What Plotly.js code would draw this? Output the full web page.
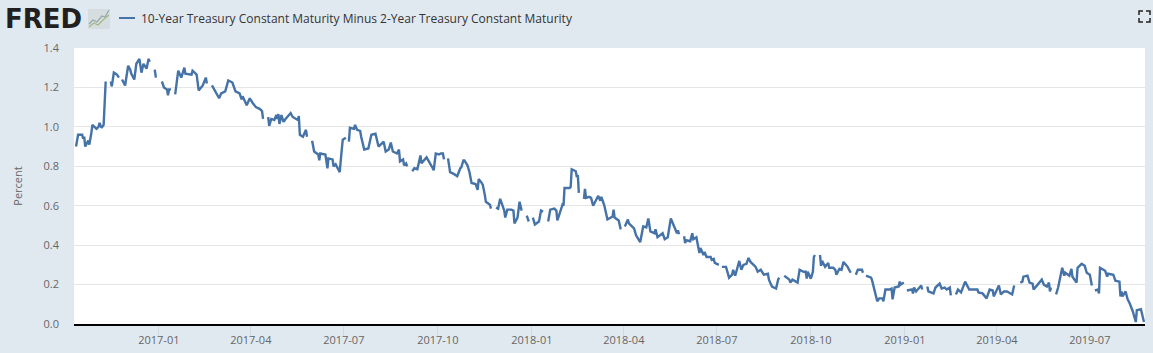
<!DOCTYPE html>
<html>
<head>
<meta charset="utf-8">
<script src="https://cdn.plot.ly/plotly-3.0.1.min.js"></script>
<style>html,body{margin:0;padding:0;background:#e1e9f0;overflow:hidden}#c{width:1153px;height:353px}</style>
</head>
<body>
<div id="c"></div>
<script>
const seriesName = "10-Year Treasury Constant Maturity Minus 2-Year Treasury Constant Maturity";
const tickDates = ["2017-01-01","2017-04-01","2017-07-01","2017-10-01","2018-01-01","2018-04-01","2018-07-01","2018-10-01","2019-01-01","2019-04-01","2019-07-01"];
const tickLabels = ["2017-01","2017-04","2017-07","2017-10","2018-01","2018-04","2018-07","2018-10","2019-01","2019-04","2019-07"];
const yTicks = [0,0.2,0.4,0.6,0.8,1.0,1.2,1.4];

const obs2016 = [["10-12",.90],["10-13",.93],["10-14",.96],["10-18",.96],["10-19",.94],["10-20",.95],["10-21",.90],["10-24",.93],["10-25",.91],["10-27",.97],["10-28",1.01],
["11-01",.99],["11-03",1.00],["11-04",1.02],["11-06",.995],["11-08",1.01],["11-10",1.23],["11-11",null],["11-15",1.23],["11-16",1.205],["11-18",1.275],["11-21",1.265],["11-23",1.25],["11-24",null],["11-26",1.24],["11-29",1.21],
["12-02",1.31],["12-04",1.29],["12-05",1.27],["12-08",1.24],["12-10",1.32],["12-13",1.345],["12-15",1.275],["12-17",1.32],["12-20",1.295],["12-22",1.345],["12-23",1.33],["12-26",null],["12-28",1.29],["12-29",1.255],["12-30",1.255]];

const obs2017 = [["01-02",null],["01-04",1.23],["01-06",1.20],["01-09",1.19],["01-10",1.16],["01-11",1.19],["01-13",1.19],["01-16",null],["01-17",1.165],["01-20",1.285],["01-23",1.25],["01-26",1.30],["01-27",1.27],
["02-02",1.265],["02-03",1.285],["02-07",1.265],["02-09",1.185],["02-13",1.21],["02-16",1.25],["02-17",1.22],["02-20",null],["02-22",1.21],["02-24",1.19],
["03-01",1.145],["03-03",1.17],["03-07",1.18],["03-10",1.235],["03-14",1.225],["03-17",1.18],["03-21",1.17],["03-23",1.14],["03-24",1.155],["03-28",1.11],["03-31",1.145],
["04-03",1.12],["04-06",1.10],["04-10",1.09],["04-12",1.08],["04-13",1.04],["04-14",null],["04-18",1.05],["04-19",1.005],["04-21",1.04],["04-24",1.035],["04-26",1.06],["04-27",1.04],["04-28",1.065],["04-29",1.015],
["05-01",1.06],["05-03",1.025],["05-05",1.04],["05-08",1.055],["05-10",1.07],["05-12",1.05],["05-15",1.04],["05-17",1.035],["05-18",1.055],["05-19",.96],["05-22",.95],["05-25",.985],["05-26",.95],["05-29",null],["05-31",.93],
["06-02",.875],["06-06",.86],["06-07",.83],["06-08",.865],["06-13",.86],["06-15",.79],["06-16",.84],["06-20",.835],["06-21",.80],["06-23",.81],["06-27",.77],["06-29",.885],["06-30",.935],
["07-03",.945],["07-04",null],["07-06",.925],["07-07",.995],["07-11",.99],["07-12",1.01],["07-14",.985],["07-17",.98],["07-18",.95],["07-20",.91],["07-21",.885],["07-25",.89],["07-28",.96],
["08-01",.965],["08-03",.915],["08-04",.90],["08-07",.915],["08-09",.925],["08-11",.875],["08-14",.885],["08-16",.92],["08-18",.875],["08-22",.865],["08-24",.885],["08-25",.825],["08-28",.835],["08-29",.805],["08-31",.815],
["09-01",.80],["09-04",null],["09-06",.775],["09-08",.79],["09-11",.785],["09-14",.855],["09-15",.815],["09-20",.845],["09-25",.80],["09-27",.78],["09-29",.865],
["10-02",.86],["10-04",.865],["10-06",.865],["10-07",.835],["10-09",null],["10-11",.84],["10-13",.77],["10-17",.76],["10-20",.75],["10-23",.79],["10-24",.795],["10-26",.83],["10-27",.83],["10-30",.805],
["11-01",.77],["11-03",.715],["11-07",.71],["11-09",.68],["11-10",.735],["11-13",.715],["11-14",.705],["11-16",.655],["11-17",.62],["11-21",.605],["11-22",.585],["11-23",null],["11-27",.59],["11-29",.585],
["12-01",.635],["12-04",.58],["12-05",.575],["12-06",.54],["12-08",.58],["12-12",.58],["12-14",.575],["12-15",.51],["12-18",.54],["12-20",.62],["12-22",.575],["12-25",null],["12-27",.55],["12-29",.52]];

const obs2018 = [["01-01",null],["01-02",.54],["01-04",.505],["01-08",.52],["01-09",.54],["01-10",.575],["01-12",.57],["01-15",null],["01-17",.52],["01-19",.58],["01-23",.585],["01-25",.575],["01-26",.525],["01-29",.58],["01-31",.605],
["02-01",.60],["02-02",.69],["02-07",.69],["02-08",.695],["02-09",.785],["02-13",.775],["02-14",.745],["02-15",.755],["02-16",.665],["02-19",null],["02-21",.635],["02-22",.685],["02-23",.64],["02-26",.645],["02-28",.64],
["03-02",.60],["03-05",.63],["03-07",.65],["03-09",.625],["03-10",.645],["03-12",.615],["03-13",.60],["03-16",.53],["03-21",.545],["03-22",.58],["03-23",.54],["03-27",.525],["03-29",.48],["03-30",null],
["04-02",.495],["04-05",.53],["04-06",.51],["04-11",.485],["04-13",.45],["04-17",.415],["04-20",.495],["04-23",.49],["04-25",.535],["04-27",.47],
["05-01",.46],["05-02",.48],["05-04",.44],["05-08",.46],["05-09",.46],["05-11",.43],["05-14",.44],["05-17",.535],["05-21",.49],["05-23",.46],["05-24",.475],["05-25",.455],["05-28",null],["05-30",.445],["05-31",.41],
["06-01",.425],["06-05",.42],["06-07",.46],["06-08",.43],["06-11",.44],["06-14",.36],["06-15",.385],["06-18",.35],["06-19",.365],["06-21",.34],["06-25",.34],["06-26",.325],["06-28",.33],["06-29",.31],
["07-03",.30],["07-04",null],["07-06",.29],["07-10",.29],["07-13",.235],["07-16",.25],["07-17",.275],["07-19",.245],["07-23",.32],["07-25",.275],["07-27",.30],["07-30",.305],
["08-01",.335],["08-03",.315],["08-08",.29],["08-10",.265],["08-13",.275],["08-16",.25],["08-20",.255],["08-21",.225],["08-24",.19],["08-28",.18],["08-30",.225],["08-31",.235],
["09-03",null],["09-05",.245],["09-10",.225],["09-11",.21],["09-13",.225],["09-18",.21],["09-20",.275],["09-24",.265],["09-26",.265],["09-27",.23],["09-28",.265],
["10-01",.23],["10-03",.265],["10-04",.34],["10-05",.35],["10-08",null],["10-10",.35],["10-11",.295],["10-12",.32],["10-15",.29],["10-18",.31],["10-19",.285],["10-23",.285],["10-25",.275],["10-26",.25],["10-29",.28],["10-31",.275],
["11-02",.315],["11-06",.29],["11-09",.26],["11-12",null],["11-14",.25],["11-16",.275],["11-20",.275],["11-21",.26],["11-22",null],["11-24",.245],["11-27",.24],["11-29",.235],["11-30",.22],
["12-03",.165],["12-05",.115],["12-07",.13],["12-10",.13],["12-11",.115],["12-13",.175],["12-17",.175],["12-19",.18],["12-20",.125],["12-22",.185],["12-26",.19],["12-27",.215],["12-28",.20],["12-31",.21]];

const obs2019 = [["01-01",null],["01-03",.17],["01-08",.175],["01-09",.155],["01-10",.185],["01-12",.165],["01-15",.18],["01-17",.195],["01-18",.175],["01-21",null],["01-23",.19],["01-24",.165],["01-29",.155],["01-31",.185],
["02-04",.205],["02-06",.18],["02-09",.185],["02-11",.175],["02-14",.185],["02-15",.145],["02-18",null],["02-20",.15],["02-22",.175],["02-25",.16],
["03-01",.215],["03-05",.175],["03-13",.175],["03-14",.16],["03-18",.155],["03-22",.13],["03-25",.175],["03-28",.17],["03-29",.14],
["04-03",.195],["04-05",.15],["04-08",.165],["04-11",.165],["04-16",.15],["04-18",.195],["04-19",null],["04-24",.21],["04-26",.215],["04-27",.24],
["05-01",.245],["05-03",.21],["05-06",.205],["05-07",.175],["05-13",.215],["05-15",.225],["05-17",.20],["05-20",.19],["05-22",.21],["05-23",.165],["05-24",.185],["05-27",null],["05-29",.15],["05-31",.185],
["06-04",.285],["06-06",.245],["06-07",.26],["06-11",.245],["06-13",.28],["06-14",.24],["06-18",.21],["06-19",.285],["06-23",.305],["06-26",.295],["06-28",.26],
["07-01",.25],["07-03",.195],["07-04",null],["07-06",.17],["07-09",.175],["07-10",.155],["07-11",.285],["07-16",.27],["07-18",.24],["07-19",.255],["07-24",.25],["07-26",.22],["07-30",.215],["07-31",.14],
["08-01",.165],["08-02",.14],["08-05",.165],["08-07",.125],["08-09",.105],["08-12",.065],["08-15",.01],["08-16",.07],["08-20",.075],["08-23",.01]];

const years = {2016: obs2016, 2017: obs2017, 2018: obs2018, 2019: obs2019};
const xs = [], ys = [];
Object.keys(years).forEach(function (yr) {
  years[yr].forEach(function (o) { xs.push(yr + "-" + o[0]); ys.push(o[1]); });
});

const W = 1153, H = 353, L = 74, R = 1145, T = 48, B = 324;
const px = function (x) { return (x - L) / (R - L); };
const py = function (y) { return (B - y) / (B - T); };
const poly = function (pts) {
  return pts.map(function (p, i) { return (i ? "L" : "M") + px(p[0]) + "," + py(p[1]); }).join(" ");
};
const deco = function (pts, color, width) {
  return {type: "path", xref: "paper", yref: "paper", path: poly(pts), line: {color: color, width: width}};
};

const shapes = [
  // legend sample
  deco([[119, 18], [135, 18]], "#4572a7", 2),
  // FRED icon
  {type: "rect", xref: "paper", yref: "paper", x0: px(88), x1: px(110), y0: py(29), y1: py(9), fillcolor: "#d6dde0", line: {width: 0}},
  deco([[89, 24], [93, 20], [97, 22], [102, 16], [105, 17], [109, 10]], "#93a7a8", 1.2),
  deco([[89, 27], [94, 23], [98, 25], [103, 20], [109, 15]], "#a6b787", 1.2),
  // fullscreen icon
  deco([[1139, 15], [1139, 11], [1143, 11]], "#222222", 1.5),
  deco([[1146, 11], [1150, 11], [1150, 15]], "#222222", 1.5),
  deco([[1139, 18], [1139, 22], [1143, 22]], "#222222", 1.5),
  deco([[1146, 22], [1150, 22], [1150, 18]], "#222222", 1.5)
];

const annotations = [
  {xref: "paper", yref: "paper", x: px(3), y: py(18.5), xanchor: "left", yanchor: "middle", showarrow: false, text: "FRED",
   font: {family: "DejaVu Sans, sans-serif", size: 26, color: "#231f20", weight: 700}},
  {xref: "paper", yref: "paper", x: px(139), y: py(18.5), xanchor: "left", yanchor: "middle", showarrow: false, text: seriesName,
   font: {family: "Open Sans, sans-serif", size: 12, color: "#333333"}}
];

Plotly.newPlot("c", [{
  type: "scatter", mode: "lines", name: seriesName, x: xs, y: ys, connectgaps: false,
  line: {color: "#4572a7", width: 2.4, shape: "linear"}, hoverinfo: "x+y"
}], {
  width: W, height: H,
  margin: {l: L, r: W - R, t: T, b: H - B, pad: 0},
  paper_bgcolor: "#e1e9f0", plot_bgcolor: "#ffffff",
  showlegend: false,
  font: {family: "Open Sans, sans-serif", size: 11, color: "#666666"},
  xaxis: {
    type: "date", range: ["2016-10-10", "2019-08-24"],
    tickmode: "array", tickvals: tickDates, ticktext: tickLabels,
    ticks: "outside", ticklen: 10, tickwidth: 1, tickcolor: "#cfd8e3",
    ticklabelstandoff: -5,
    showgrid: false, zeroline: false, showline: true, linecolor: "#000000", linewidth: 2,
    tickfont: {family: "Open Sans, sans-serif", size: 11, color: "#666666"}
  },
  yaxis: {
    range: [0, 1.4], tickmode: "array", tickvals: yTicks,
    ticktext: yTicks.map(function (v) { return v.toFixed(1); }),
    ticks: "", showgrid: true, gridcolor: "#e6e6e6", gridwidth: 1, zeroline: false, showline: false,
    ticklabelstandoff: 14,
    tickfont: {family: "Open Sans, sans-serif", size: 11, color: "#666666"},
    title: {text: "Percent", standoff: 18, font: {family: "Open Sans, sans-serif", size: 11, color: "#666666"}}
  },
  shapes: shapes,
  annotations: annotations
}, {displayModeBar: false, staticPlot: true});
</script>
</body>
</html>
